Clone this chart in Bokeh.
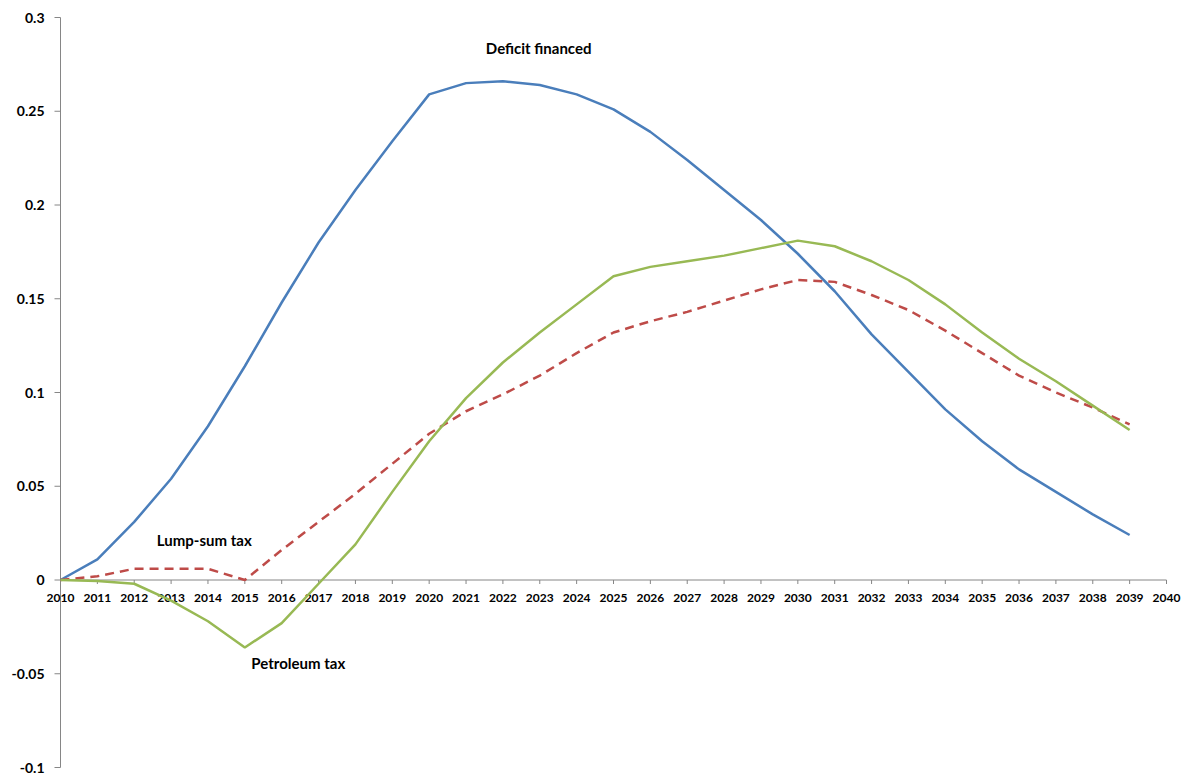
from bokeh.plotting import figure
from bokeh.models import ColumnDataSource, Range1d
from bokeh.core.properties import value
from bokeh.embed import file_html
from bokeh.resources import INLINE

years = list(range(2010, 2040))
deficit_financed = [0.0, 0.011, 0.031, 0.054, 0.082, 0.114, 0.148, 0.180, 0.208, 0.234,
                    0.259, 0.265, 0.266, 0.264, 0.259, 0.251, 0.239, 0.224, 0.208, 0.192,
                    0.174, 0.154, 0.131, 0.111, 0.091, 0.074, 0.059, 0.047, 0.035, 0.024]
lump_sum_tax = [0.0, 0.002, 0.006, 0.006, 0.006, 0.0, 0.016, 0.031, 0.046, 0.062,
                0.078, 0.090, 0.099, 0.109, 0.121, 0.132, 0.138, 0.143, 0.149, 0.155,
                0.160, 0.159, 0.152, 0.144, 0.133, 0.121, 0.109, 0.100, 0.092, 0.083]
petroleum_tax = [0.0, -0.0005, -0.002, -0.011, -0.022, -0.036, -0.023, -0.002, 0.019, 0.047,
                 0.074, 0.097, 0.116, 0.132, 0.147, 0.162, 0.167, 0.170, 0.173, 0.177,
                 0.181, 0.178, 0.170, 0.160, 0.147, 0.132, 0.118, 0.106, 0.093, 0.080]
x_ticks = list(range(2010, 2041))
x_tick_labels = [str(y) for y in x_ticks]
y_ticks = [-0.1, -0.05, 0, 0.05, 0.1, 0.15, 0.2, 0.25, 0.3]
y_tick_labels = ["-0.1", "-0.05", "0", "0.05", "0.1", "0.15", "0.2", "0.25", "0.3"]
annotations = ["Deficit financed", "Lump-sum tax", "Petroleum tax"]
annot_x = [2022.97, 2013.9, 2016.45]
annot_y = [0.284, 0.0211, -0.0445]

FONT = "Lato"
AXIS_GRAY = "#868686"

# layout in pixels (frame fills the whole figure; axes drawn by hand)
W, H = 1181, 774
AX_LEFT_PX, AX_RIGHT_PX = 60, 15      # space left of 2010 / right of 2040
AX_TOP_PX, AX_BOTTOM_PX = 17, 7       # space above 0.3 / below -0.1
x0, x1 = x_ticks[0], x_ticks[-1]
y0, y1 = y_ticks[0], y_ticks[-1]
px_x = (W - AX_LEFT_PX - AX_RIGHT_PX) / (x1 - x0)
px_y = (H - AX_TOP_PX - AX_BOTTOM_PX) / (y1 - y0)

p = figure(width=W, height=H, output_backend="svg", toolbar_location=None,
           x_range=Range1d(x0 - AX_LEFT_PX / px_x, x1 + AX_RIGHT_PX / px_x),
           y_range=Range1d(y0 - AX_BOTTOM_PX / px_y, y1 + AX_TOP_PX / px_y),
           min_border=0, min_border_left=0, min_border_right=0,
           min_border_top=0, min_border_bottom=0)
p.xaxis.visible = False
p.yaxis.visible = False
p.xgrid.visible = False
p.ygrid.visible = False
p.outline_line_color = None

# vertical value axis at 2010
p.segment(x0=[x0], y0=[y0], x1=[x0], y1=[y1], line_color=AXIS_GRAY, line_width=1)
ysrc = ColumnDataSource(dict(y=y_ticks, xa=[x0] * len(y_ticks),
                             xb=[x0 - 6 / px_x] * len(y_ticks), lab=y_tick_labels))
p.segment(x0="xa", y0="y", x1="xb", y1="y", source=ysrc, line_color=AXIS_GRAY, line_width=1)
p.text(x="xa", y="y", text="lab", source=ysrc, x_offset=-16, text_align="right",
       text_baseline="middle", text_font=value(FONT), text_font_style="bold",
       text_font_size="14px", text_color="black")

# horizontal category axis crossing at zero
p.segment(x0=[x0], y0=[0], x1=[x1], y1=[0], line_color=AXIS_GRAY, line_width=1)
tick_src = ColumnDataSource(dict(x=x_ticks, ya=[0] * len(x_ticks),
                                 yb=[-4 / px_y] * len(x_ticks), lab=x_tick_labels))
p.segment(x0="x", y0="ya", x1="x", y1="yb", source=tick_src, line_color=AXIS_GRAY, line_width=1)
p.text(x="x", y="ya", text="lab", source=tick_src, y_offset=17.5, text_align="center",
       text_baseline="middle", text_font=value(FONT), text_font_style="bold",
       text_font_size="12px", text_color="black")

src = ColumnDataSource(dict(x=years, d=deficit_financed, l=lump_sum_tax, pt=petroleum_tax))
p.line("x", "d", source=src, line_color="#4A7EBB", line_width=2.5)
p.line("x", "l", source=src, line_color="#BE4B48", line_width=2.5, line_dash="9 6")
p.line("x", "pt", source=src, line_color="#98B954", line_width=2.5)

p.text(x=annot_x, y=annot_y, text=annotations, text_align="center", text_baseline="middle",
       text_font=value(FONT), text_font_style="bold", text_font_size="15px", text_color="black")

open("out.html", "w").write(file_html(p, INLINE))
